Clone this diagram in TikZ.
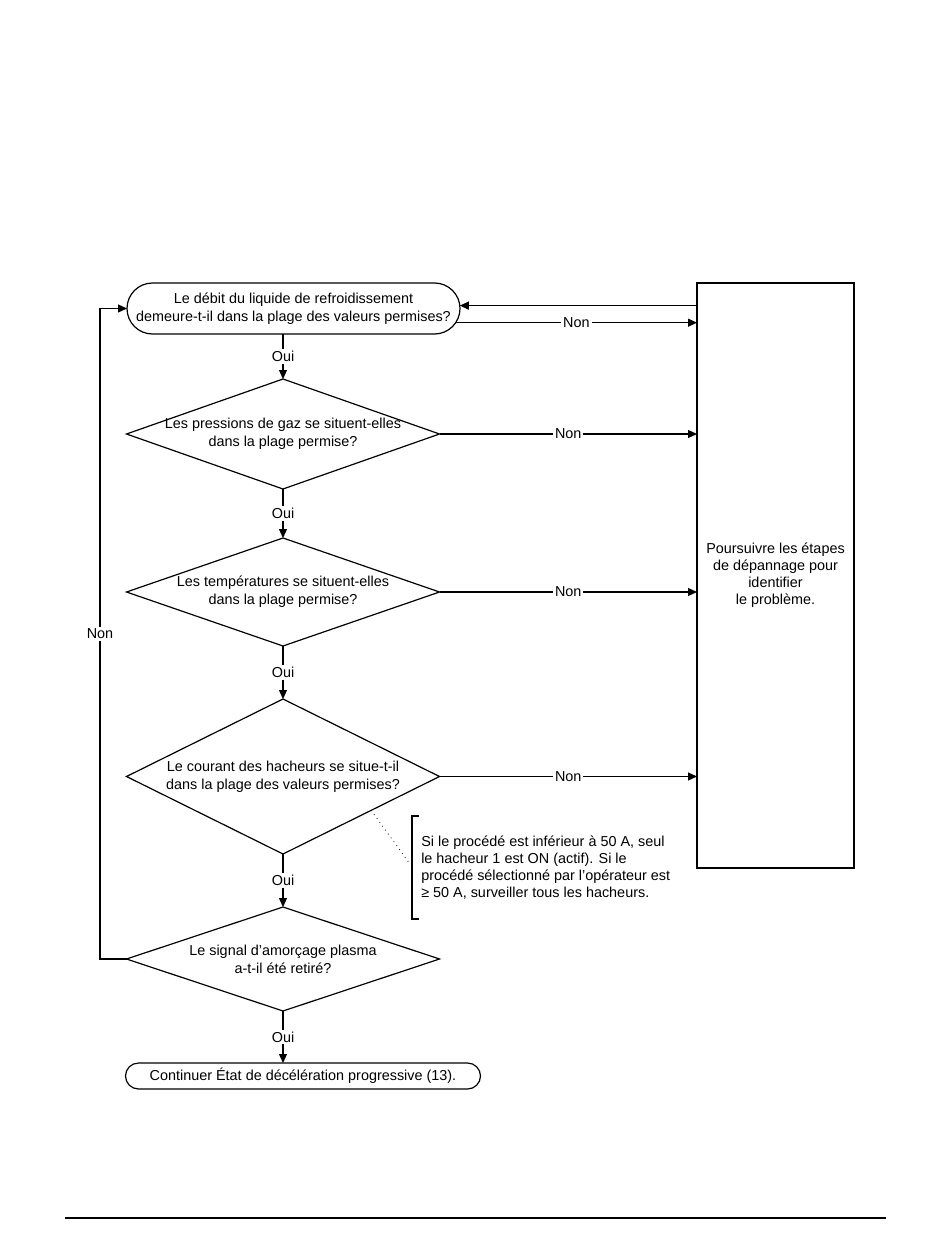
\documentclass[tikz,border=0pt]{standalone}
\usepackage{fontspec}
\setmainfont{Liberation Sans}
\usetikzlibrary{arrows.meta,shapes.geometric,shapes.misc}
\begin{document}
\begin{tikzpicture}[x=0.75pt,y=-0.75pt,
  every node/.style={font=\fontsize{10.8}{13.5}\selectfont},
  ln/.style={line width=0.9pt,draw=black},
  arr/.style={ln,-{Triangle[length=6.75pt,width=6pt]}},
  term/.style={ln,rounded rectangle,inner sep=0pt,outer sep=0pt},
  dec/.style={ln,diamond,inner sep=0pt,outer sep=0pt,minimum width=234.75pt},
  txt/.style={align=center,inner sep=0pt},
  tight/.style={font=\fontsize{10.8}{12.75}\selectfont},
  lab/.style={fill=white,inner sep=1.5pt}]
\useasboundingbox (0,0) rectangle (950,1248);

% nodes
\node[term,minimum width=249.75pt,minimum height=38.25pt] (t1) at (293.5,308.5) {};
\node[txt] (t1t) at (t1) {Le débit du liquide de refroidissement\\demeure-t-il dans la plage des valeurs permises?};

\node[dec,minimum height=82.5pt] (d1) at (283,434) {};
\node[txt] (d1t) at (d1) {Les pressions de gaz se situent-elles\\dans la plage permise?};

\node[dec,minimum height=81pt] (d2) at (283,592) {};
\node[txt] (d2t) at (d2) {Les températures se situent-elles\\dans la plage permise?};

\node[dec,minimum height=116.25pt] (d3) at (283,776.5) {};
\node[txt] (d3t) at (d3) {Le courant des hacheurs se situe-t-il\\dans la plage des valeurs permises?};

\node[dec,minimum height=78pt] (d4) at (283,959) {};
\node[txt] (d4t) at (d4) {Le signal d’amorçage plasma\\a-t-il été retiré?};

\node[term,minimum width=266.25pt,minimum height=19.5pt] (t2) at (303,1076) {};
\node[txt] (t2t) at (t2) {Continuer État de décélération progressive (13).};

\node[ln,rectangle,minimum width=117.75pt,minimum height=438.75pt,inner sep=0pt,outer sep=0pt] (box) at (775.5,575.5) {};
\node[txt,tight] (boxt) at (box) {Poursuivre les étapes\\de dépannage pour\\identifier\\le problème.};

% Oui connectors
\draw[arr] (t1.south -| d1.north) -- (d1.north) node[lab,midway] {Oui};
\draw[arr] (d1.south) -- (d2.north) node[lab,midway] {Oui};
\draw[arr] (d2.south) -- (d3.north) node[lab,midway] {Oui};
\draw[arr] (d3.south) -- (d4.north) node[lab,midway] {Oui};
\draw[arr] (d4.south) -- (d4.south |- t2.north) node[lab,midway] {Oui};

% Non connectors to box
\draw[arr] (t1.-5.5) -- (t1.-5.5 -| box.west) node[lab,midway] {Non};
\draw[arr] (d1.east) -- (d1.east -| box.west) node[lab,midway] {Non};
\draw[arr] (d2.east) -- (d2.east -| box.west) node[lab,midway] {Non};
\draw[arr] (d3.east) -- (d3.east -| box.west) node[lab,midway] {Non};
\draw[arr] (t1.1.9 -| box.west) -- (t1.1.9);

% loop back
\coordinate (lx) at (100,0);
\draw[arr] (d4.west) -- (d4.west -| lx) -- (t1.west -| lx) node[lab,midway] {Non} -- (t1.west);

% annotation
\coordinate (anA) at (419,816);
\coordinate (anB) at (419,919);
\coordinate (anEnd) at (410,864);
\draw[line width=0.9pt] (anA) -- (412,816) -- (412,919) -- (anB);
\draw[line width=0.6pt,dash pattern=on 0.6pt off 3pt] (d3.-21.3) -- (anEnd);
\node[tight,align=left,anchor=west,inner sep=0pt] (note) at (421,867.5) {Si le procédé est inférieur à 50 A, seul\\le hacheur 1 est ON (actif). Si le\\procédé sélectionné par l’opérateur est\\≥ 50 A, surveiller tous les hacheurs.};

% footer rule
\coordinate (fl) at (65,1218);
\coordinate (fr) at (886,1218);
\draw[line width=0.9pt] (fl) -- (fr);
\end{tikzpicture}
\end{document}
